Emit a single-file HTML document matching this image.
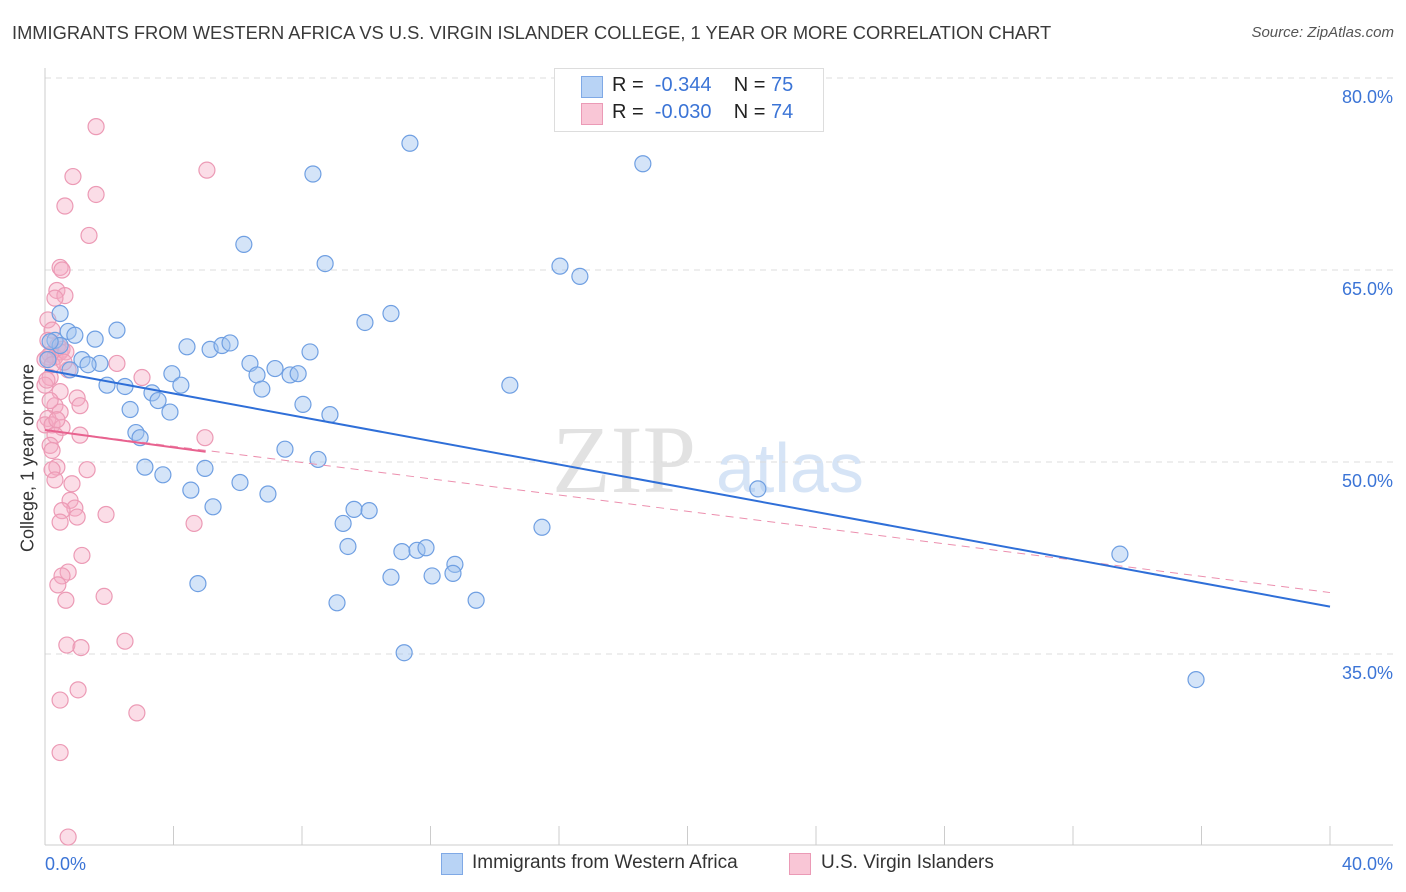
<!DOCTYPE html>
<html><head><meta charset="utf-8">
<style>
body{margin:0;background:#fff;font-family:"Liberation Sans",sans-serif;}
#wrap{position:relative;width:1406px;height:892px;overflow:hidden;}
.t{position:absolute;white-space:nowrap;}
</style></head>
<body>
<div id="wrap">
<div class="t" style="left:12px;top:22px;font-size:18.3px;color:#3a3a3a;">IMMIGRANTS FROM WESTERN AFRICA VS U.S. VIRGIN ISLANDER COLLEGE, 1 YEAR OR MORE CORRELATION CHART</div>
<div class="t" style="right:12px;top:24px;font-size:15px;color:#555;font-style:italic;">Source: ZipAtlas.com</div>
<div class="t" style="left:28px;top:458px;font-size:18px;color:#333;transform:translate(-50%,-50%) rotate(-90deg);">College, 1 year or more</div>
<svg id="svg" width="1406" height="892" style="position:absolute;left:0;top:0;"></svg>
<div style="position:absolute;left:554px;top:68px;width:268px;height:62px;border:1px solid #ddd;background:#fff;"></div>
<div style="position:absolute;left:581px;top:76px;width:20px;height:20px;background:#b8d3f5;border:1px solid #7fa9e6;"></div>
<div style="position:absolute;left:581px;top:103px;width:20px;height:20px;background:#f9c6d6;border:1px solid #eb9ab6;"></div>
<div class="t" style="left:612px;top:74px;font-size:20px;color:#222;">R = &nbsp;<span style="color:#3b74d6">-0.344</span>&nbsp;&nbsp;&nbsp; N = <span style="color:#3b74d6">75</span></div>
<div class="t" style="left:612px;top:101px;font-size:20px;color:#222;">R = &nbsp;<span style="color:#3b74d6">-0.030</span>&nbsp;&nbsp;&nbsp; N = <span style="color:#3b74d6">74</span></div>
<div style="position:absolute;left:441px;top:853px;width:20px;height:20px;background:#b8d3f5;border:1px solid #7fa9e6;"></div>
<div class="t" style="left:472px;top:852px;font-size:19px;color:#333;">Immigrants from Western Africa</div>
<div style="position:absolute;left:789px;top:853px;width:20px;height:20px;background:#f9c6d6;border:1px solid #eb9ab6;"></div>
<div class="t" style="left:821px;top:852px;font-size:19px;color:#333;">U.S. Virgin Islanders</div>
</div>
<script>
const xTicks=[0,4,8,12,16,20,24,28,32,36,40];
const yTicks=[80,65,50,35];
const yTickLabels=["80.0%","65.0%","50.0%","35.0%"];
const xEndLabels=["0.0%","40.0%"];
const blueX=[11.36,18.61,8.34,6.19,8.72,16.03,16.65,10.77,9.96,0.47,0.72,2.24,1.56,4.42,5.14,5.51,5.76,8.25,1.15,1.71,6.38,7.16,7.63,7.88,6.6,3.95,1.93,2.49,4.23,6.75,3.33,3.52,8.03,2.65,3.89,8.87,14.47,2.83,2.96,7.47,8.5,3.11,3.67,4.98,4.54,6.07,6.94,5.23,22.19,9.62,10.09,9.28,15.47,9.43,11.11,11.58,11.86,12.76,12.7,10.77,12.05,13.42,9.09,4.76,11.18,33.46,35.83,0.31,0.47,0.16,0.78,0.93,1.34,0.09];
const blueY=[74.9,73.3,72.5,67.0,65.5,65.3,64.5,61.6,60.9,61.6,60.2,60.3,59.6,59.0,58.8,59.1,59.3,58.6,58.0,57.7,57.7,57.3,56.8,56.9,56.8,56.9,56.0,55.9,56.0,55.7,55.4,54.8,54.5,54.1,53.9,53.7,56.0,52.3,51.9,51.0,50.2,49.6,49.0,49.5,47.8,48.4,47.5,46.5,47.9,46.3,46.2,45.2,44.9,43.4,43.0,43.1,43.3,42.0,41.3,41.0,41.1,39.2,39.0,40.5,35.1,42.8,33.0,59.5,59.1,59.4,57.2,59.9,57.6,58.0];
const pinkX=[1.59,5.04,0.87,1.59,0.62,1.37,0.47,0.53,0.37,0.62,0.31,0.09,0.22,0.40,0.53,0.16,0.31,0.47,0.65,0.09,0,2.24,3.02,0.72,0.16,0,0.47,1.0,1.09,0.31,0.47,0.09,0,0.22,0.53,1.09,0.31,0.16,4.98,0.37,1.31,0.22,0.31,0.84,0.78,0.93,0.53,0.47,1.0,1.9,4.64,1.15,0.72,0.53,0.40,1.84,0.65,2.49,0.68,1.12,1.03,0.47,2.86,0.47,0.72,0.06,0.16,0.22,0.37,0.09,0.22,0.59];
const pinkY=[76.2,72.8,72.3,70.9,70.0,67.7,65.2,65.0,63.4,63.0,62.8,61.1,60.3,59.1,58.8,58.4,58.2,58.6,58.6,58.2,58.0,57.7,56.6,57.2,56.6,56.0,55.5,55.0,54.4,54.4,53.9,53.4,52.9,52.9,52.7,52.1,52.1,51.3,51.9,49.6,49.4,49.4,48.6,48.3,47.0,46.4,46.2,45.3,45.7,45.9,45.2,42.7,41.4,41.1,40.4,39.5,39.2,36.0,35.7,35.5,32.2,31.4,30.4,27.3,20.7,56.4,54.8,50.9,53.3,59.5,57.6,57.8];
const blueTrendX=[0,40], blueTrendY=[57.2,38.7];
const pinkSolidX=[0,5], pinkSolidY=[52.5,50.8];
const pinkDashX=[0,40], pinkDashY=[52.5,39.8];

const X0=45,X1=1330,XMIN=0,XMAX=40;
const YT=78,YMAX=80,PXPER=12.8;
const sx=v=>X0+(v-XMIN)/(XMAX-XMIN)*(X1-X0);
const sy=v=>YT+(YMAX-v)*PXPER;
const svg=document.getElementById('svg');
const NS='http://www.w3.org/2000/svg';
function mk(tag,attrs){const e=document.createElementNS(NS,tag);for(const k in attrs)e.setAttribute(k,attrs[k]);svg.appendChild(e);return e;}

let w=mk('text',{x:552,y:492,'font-family':'Liberation Serif,serif','font-size':96,fill:'#e2e2e2'});w.textContent='ZIP';


w=mk('text',{x:716,y:492,'font-family':'Liberation Sans,sans-serif','font-size':70,fill:'#d6e4f6'});w.textContent='atlas';



yTicks.forEach((v,i)=>{
  const g=mk('line',{x1:X0,x2:1393,y1:sy(v),y2:sy(v),stroke:'#dcdcdc','stroke-dasharray':'6,5','stroke-width':1});
  
  
  const t=mk('text',{x:1393,y:sy(v)+25,'text-anchor':'end','font-size':18,fill:'#3b74d6','font-family':'Liberation Sans,sans-serif'});
  t.textContent=yTickLabels[i];
  
  
});
let a=mk('line',{x1:X0,x2:X0,y1:68,y2:845,stroke:'#ccc'});


a=mk('line',{x1:X0,x2:1393,y1:845,y2:845,stroke:'#ccc'});


xTicks.forEach(v=>{
  const t=mk('line',{x1:sx(v),x2:sx(v),y1:826,y2:845,stroke:'#ccc'});
  
  
});
let l=mk('text',{x:45,y:870,'font-size':18,fill:'#3b74d6','font-family':'Liberation Sans,sans-serif'});l.textContent=xEndLabels[0];


l=mk('text',{x:1393,y:870,'text-anchor':'end','font-size':18,fill:'#3b74d6','font-family':'Liberation Sans,sans-serif'});l.textContent=xEndLabels[1];



pinkX.forEach((v,i)=>{
  const c=mk('circle',{cx:sx(v),cy:sy(pinkY[i]),r:8,fill:'rgba(246,170,196,0.4)',stroke:'#ec9ab5','stroke-width':1.2});
  
  
});
blueX.forEach((v,i)=>{
  const c=mk('circle',{cx:sx(v),cy:sy(blueY[i]),r:8,fill:'rgba(160,196,240,0.45)',stroke:'#6f9fe2','stroke-width':1.2});
  
  
});
let tl=mk('line',{x1:sx(pinkDashX[0]),y1:sy(pinkDashY[0]),x2:sx(pinkDashX[1]),y2:sy(pinkDashY[1]),stroke:'#ec8fae','stroke-width':1,'stroke-dasharray':'8,6'});


tl=mk('line',{x1:sx(blueTrendX[0]),y1:sy(blueTrendY[0]),x2:sx(blueTrendX[1]),y2:sy(blueTrendY[1]),stroke:'#2f6fd8','stroke-width':2});


tl=mk('line',{x1:sx(pinkSolidX[0]),y1:sy(pinkSolidY[0]),x2:sx(pinkSolidX[1]),y2:sy(pinkSolidY[1]),stroke:'#e8628f','stroke-width':2});


</script>
</body></html>
